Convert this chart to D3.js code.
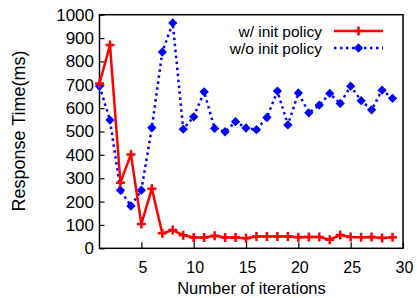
<!DOCTYPE html>
<html>
<head>
<meta charset="utf-8">
<script src="https://cdn.jsdelivr.net/npm/d3@7"></script>
<style>
  body { margin: 0; background: #fff; }
  text { font-family: "Liberation Sans", Arial, sans-serif; fill: #000; }
</style>
</head>
<body>
<div id="chart"></div>
<script>
// response time vs iterations

const iterations = d3.range(1, 30)
const withInit = [706, 870, 281, 402, 104, 255, 64, 78, 56, 46, 46, 54, 46, 46, 43, 50, 50, 50, 50, 47, 48, 48, 37, 57, 48, 47, 48, 44, 47]
const withoutInit = [694, 549, 248, 181, 249, 516, 840, 965, 510, 563, 670, 513, 499, 542, 515, 508, 560, 673, 528, 665, 580, 613, 663, 620, 694, 632, 593, 677, 642]
const yTicks = d3.range(0, 1001, 100)
const xTicks = [5, 10, 15, 20, 25, 30]
const seriesNames = ["w/ init policy", "w/o init policy"]

const W = 417, H = 298
const PLOT = { LEFT: 99.5, RIGHT: 403, TOP: 14.7, BOTTOM: 248.3 }

const svg = d3.select("#chart").append("svg")
    .attr("width", W)
    .attr("height", H)

const x = d3.scaleLinear().domain([1, 30]).range([PLOT.LEFT, PLOT.RIGHT])
const y = d3.scaleLinear().domain([0, 1000]).range([PLOT.BOTTOM, PLOT.TOP])

// axes with inward ticks
const yAxis = svg.append("g")
    .attr("transform", `translate(${PLOT.LEFT},0)`)
    .call(d3.axisLeft(y).tickValues(yTicks).tickFormat(d3.format("d"))
        .tickSizeInner(-5).tickSizeOuter(0).tickPadding(5.5))
yAxis.select(".domain").remove()
yAxis.selectAll("text").attr("font-size", "17px").attr("font-family", "Liberation Sans, Arial, sans-serif")
yAxis.selectAll("line").attr("stroke", "#000").attr("stroke-width", 1.2)

const xAxis = svg.append("g")
    .attr("transform", `translate(0,${PLOT.BOTTOM})`)
    .call(d3.axisBottom(x).tickValues(xTicks).tickSizeInner(-6).tickSizeOuter(0).tickPadding(13))
xAxis.select(".domain").remove()
xAxis.selectAll("text").attr("font-size", "16px").attr("font-family", "Liberation Sans, Arial, sans-serif")
    .attr("dx", "1px")
xAxis.selectAll("line").attr("stroke", "#000").attr("stroke-width", 1.2)

// frame
svg.append("rect")
    .attr("x", PLOT.LEFT)
    .attr("y", PLOT.TOP)
    .attr("width", PLOT.RIGHT - PLOT.LEFT)
    .attr("height", PLOT.BOTTOM - PLOT.TOP)
    .attr("fill", "none")
    .attr("stroke", "#000")
    .attr("stroke-width", 1.5)

// axis titles
svg.append("text")
    .attr("x", 251.5)
    .attr("y", 293.5)
    .attr("text-anchor", "middle")
    .attr("font-size", "16.5px")
    .text("Number of iterations")

svg.append("text")
    .attr("transform", "translate(24.5,131) rotate(-90)")
    .attr("text-anchor", "middle")
    .attr("font-size", "18px")
    .text("Response Time(ms)")

const line = d3.line()
    .x((d, i) => x(iterations[i]))
    .y(d => y(d))

const plusPath = "M-4.5,0H4.5M0,-4.5V4.5"
const diamond = d3.symbol().type(d3.symbolDiamond2).size(55)

// blue dotted series
svg.append("path")
    .datum(withoutInit)
    .attr("d", line)
    .attr("fill", "none")
    .attr("stroke", "#0000ff")
    .attr("stroke-width", 2.5)
    .attr("stroke-dasharray", "2.5,3.5")

svg.append("g").selectAll("path")
    .data(withoutInit)
    .join("path")
    .attr("transform", (d, i) => `translate(${x(iterations[i])},${y(d)})`)
    .attr("d", diamond)
    .attr("fill", "#0000ff")

// red series
svg.append("path")
    .datum(withInit)
    .attr("d", line)
    .attr("fill", "none")
    .attr("stroke", "#ff0000")
    .attr("stroke-width", 2.5)

svg.append("g").selectAll("path")
    .data(withInit)
    .join("path")
    .attr("transform", (d, i) => `translate(${x(iterations[i])},${y(d)})`)
    .attr("d", plusPath)
    .attr("stroke", "#ff0000")
    .attr("stroke-width", 2.5)

// legend
const legend = svg.append("g")
seriesNames.forEach((name, i) => {
    const ly = 31 + i * 17
    legend.append("text")
        .attr("x", 322)
        .attr("y", ly + 5.5)
        .attr("text-anchor", "end")
        .attr("font-size", "15.5px")
        .text(name)
    legend.append("line")
        .attr("x1", 334).attr("x2", 383)
        .attr("y1", ly).attr("y2", ly)
        .attr("stroke", i == 0 ? "#ff0000" : "#0000ff")
        .attr("stroke-width", 2.5)
        .attr("stroke-dasharray", i == 0 ? null : "2.5,3.5")
    if (i == 0) {
        legend.append("path")
            .attr("transform", `translate(358.5,${ly})`)
            .attr("d", plusPath)
            .attr("stroke", "#ff0000")
            .attr("stroke-width", 2.5)
    } else {
        legend.append("path")
            .attr("transform", `translate(358.5,${ly})`)
            .attr("d", diamond)
            .attr("fill", "#0000ff")
    }
})
</script>
</body>
</html>
